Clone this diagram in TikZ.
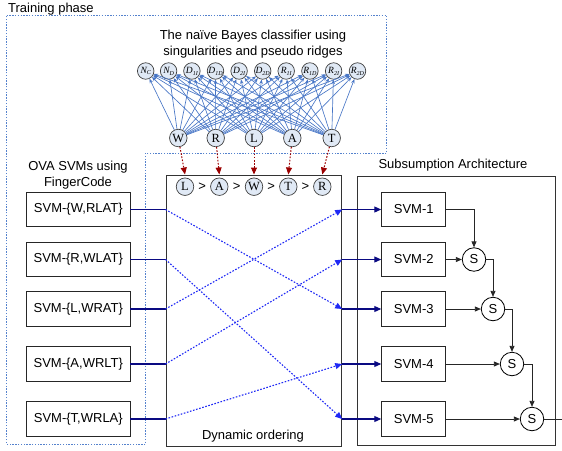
\documentclass[tikz,border=0pt]{standalone}
\usepackage{fontspec}
\setmainfont{Liberation Sans}
\newfontfamily\serifrm{Liberation Serif}
\usetikzlibrary{arrows.meta,calc}

\definecolor{featfill}{RGB}{224,233,245}
\definecolor{nbblue}{RGB}{72,118,198}
\definecolor{navyline}{RGB}{10,10,130}
\definecolor{dotblue}{RGB}{30,40,245}
\definecolor{framedot}{RGB}{85,130,205}
\definecolor{darkred}{RGB}{155,0,0}

% feature label: italic serif letter with a small subscript
\newcommand{\ftl}[2]{{\serifrm\itshape\fontsize{9.5}{10}\selectfont #1\raisebox{-1.8pt}{\fontsize{6}{6}\selectfont #2}}}

\begin{document}
\begin{tikzpicture}[x=1pt,y=-1pt,
  txt/.style={font=\fontsize{13}{16}\selectfont, inner sep=0pt, align=center},
  svmbox/.style={draw=black!85, line width=0.9pt, minimum height=34.5pt, inner sep=0pt,
                 font=\fontsize{13}{16}\selectfont},
  feat/.style={circle, draw=black!75, fill=featfill, line width=0.7pt, minimum size=16.5pt, inner sep=0pt},
  cls/.style={circle, draw=black!75, fill=featfill, line width=0.7pt, minimum size=17.5pt, inner sep=0pt,
              font=\serifrm\fontsize{12.5}{12.5}\selectfont},
  sumnode/.style={circle, draw=black, fill=white, line width=0.8pt, minimum size=23.5pt, inner sep=0pt,
                  font=\fontsize{13}{13}\selectfont},
  bigbox/.style={draw=black!80, line width=1pt, inner sep=0pt},
  nbedge/.style={draw=nbblue, line width=0.65pt, -{Stealth[length=4.5pt,width=3.5pt]}},
  rank/.style={draw=darkred, line width=1pt, dash pattern=on 1.6pt off 1.6pt, -{Triangle[length=7pt,width=6pt]}},
  route/.style={draw=dotblue, line width=1.1pt, dash pattern=on 1.6pt off 1.6pt, -{Triangle[length=7pt,width=6pt]}},
  feed/.style={draw=navyline, line width=1.1pt},
  feedarr/.style={draw=navyline, line width=1.1pt, -{Triangle[length=7pt,width=6pt]}},
  sub/.style={draw=black!85, line width=0.8pt, -{Triangle[length=6pt,width=5pt]}}
]
\useasboundingbox (0,0) rectangle (562,450);

% training phase frame
\draw[framedot, line width=0.9pt, dash pattern=on 1.4pt off 1.4pt]
  (6.5,15.5) -- (386.7,15.5) -- (386.7,153) -- (145.7,153) -- (145.7,444) -- (6.5,444) -- cycle;
\node[txt, anchor=west] (trainlbl) at (8,9) {Training phase};

% naive Bayes classifier
\node[txt] (nbtitle) at (253,44) {The naïve Bayes classifier using\\singularities and pseudo ridges};

\node[feat] (f1)  at (145.7,71) {\ftl{N}{C}};
\node[feat] (f2)  at (168.6,71) {\ftl{N}{D}};
\node[feat] (f3)  at (191.9,71) {\ftl{D}{1I}};
\node[feat] (f4)  at (215.5,71) {\ftl{D}{1D}};
\node[feat] (f5)  at (239.1,71) {\ftl{D}{2I}};
\node[feat] (f6)  at (262.7,71) {\ftl{D}{2D}};
\node[feat] (f7)  at (286.2,71) {\ftl{R}{1I}};
\node[feat] (f8)  at (309.9,71) {\ftl{R}{1D}};
\node[feat] (f9)  at (333.6,71) {\ftl{R}{2I}};
\node[feat] (f10) at (357.5,71) {\ftl{R}{2D}};

\node[cls] (cW) at (178.3,138) {W};
\node[cls] (cR) at (215.7,138) {R};
\node[cls] (cL) at (254,138) {L};
\node[cls] (cA) at (292.3,138) {A};
\node[cls] (cT) at (331.7,138) {T};

\foreach \b in {cW,cR,cL,cA,cT}
  \foreach \t in {f1,f2,f3,f4,f5,f6,f7,f8,f9,f10}
    \draw[nbedge] (\b) -- (\t);

% OVA SVMs
\node[txt] (ovalbl) at (78,175.5) {OVA SVMs using\\FingerCode};
\node[svmbox, minimum width=103.3pt] (sl1) at (78.3,209.5) {SVM-\{W,RLAT\}};
\node[svmbox, minimum width=103.3pt] (sl2) at (78.3,259.5) {SVM-\{R,WLAT\}};
\node[svmbox, minimum width=103.3pt] (sl3) at (78.3,309)   {SVM-\{L,WRAT\}};
\node[svmbox, minimum width=103.3pt] (sl4) at (78.3,364)   {SVM-\{A,WRLT\}};
\node[svmbox, minimum width=103.3pt] (sl5) at (78.3,419)   {SVM-\{T,WRLA\}};

% dynamic ordering
\node[bigbox, minimum width=175.7pt, minimum height=271pt] (ord) at (253.85,310.5) {};
\node[txt] (ordlbl) at (253,436) {Dynamic ordering};

\node[cls] (oL) at (185,186.7) {L};
\node[cls] (oA) at (219.3,186.7) {A};
\node[cls] (oW) at (254,186.7) {W};
\node[cls] (oT) at (288.3,186.7) {T};
\node[cls] (oR) at (322.3,186.7) {R};
\node[txt] (g1) at ($(oL)!0.5!(oA)$) {>};
\node[txt] (g2) at ($(oA)!0.5!(oW)$) {>};
\node[txt] (g3) at ($(oW)!0.5!(oT)$) {>};
\node[txt] (g4) at ($(oT)!0.5!(oR)$) {>};

\draw[rank] (cW) -- (oL |- ord.north);
\draw[rank] (cR) -- (oA |- ord.north);
\draw[rank] (cL) -- (oW |- ord.north);
\draw[rank] (cA) -- (oT |- ord.north);
\draw[rank] (cT) -- (oR |- ord.north);

% subsumption architecture
\node[txt] (sublbl) at (453,165) {Subsumption Architecture};
\node[bigbox, minimum width=197.7pt, minimum height=269pt] (subbox) at (456.15,311.2) {};

\node[svmbox, minimum width=64pt] (sr1) at (413.7,209.5) {SVM-1};
\node[svmbox, minimum width=64pt] (sr2) at (413.7,259.5) {SVM-2};
\node[svmbox, minimum width=64pt] (sr3) at (413.7,309)   {SVM-3};
\node[svmbox, minimum width=64pt] (sr4) at (413.7,364)   {SVM-4};
\node[svmbox, minimum width=64pt] (sr5) at (413.7,419)   {SVM-5};

\node[sumnode] (s1) at (474,259.5) {S};
\node[sumnode] (s2) at (493,309)   {S};
\node[sumnode] (s3) at (512,364)   {S};
\node[sumnode] (s4) at (532,419)   {S};
\coordinate (out) at (562,419);

% feeds into the ordering stage
\foreach \i in {1,...,5}
  \draw[feed] (sl\i.east) -- (ord.west |- sl\i.east);

% routing by rank
\draw[route] (ord.west |- sl1.east) -- (ord.east |- sr3.west);
\draw[route] (ord.west |- sl2.east) -- (ord.east |- sr5.west);
\draw[route] (ord.west |- sl3.east) -- (ord.east |- sr1.west);
\draw[route] (ord.west |- sl4.east) -- (ord.east |- sr2.west);
\draw[route] (ord.west |- sl5.east) -- (ord.east |- sr4.west);

\foreach \i in {1,...,5}
  \draw[feedarr] (ord.east |- sr\i.west) -- (sr\i.west);

% suppression chain
\draw[sub] (sr1.east) -| (s1.north);
\draw[sub] (sr2.east) -- (s1.west);
\draw[sub] (s1.east) -| (s2.north);
\draw[sub] (sr3.east) -- (s2.west);
\draw[sub] (s2.east) -| (s3.north);
\draw[sub] (sr4.east) -- (s3.west);
\draw[sub] (s3.east) -| (s4.north);
\draw[sub] (sr5.east) -- (s4.west);
\draw[draw=black!85, line width=0.8pt] (s4.east) -- (out);
\end{tikzpicture}
\end{document}
